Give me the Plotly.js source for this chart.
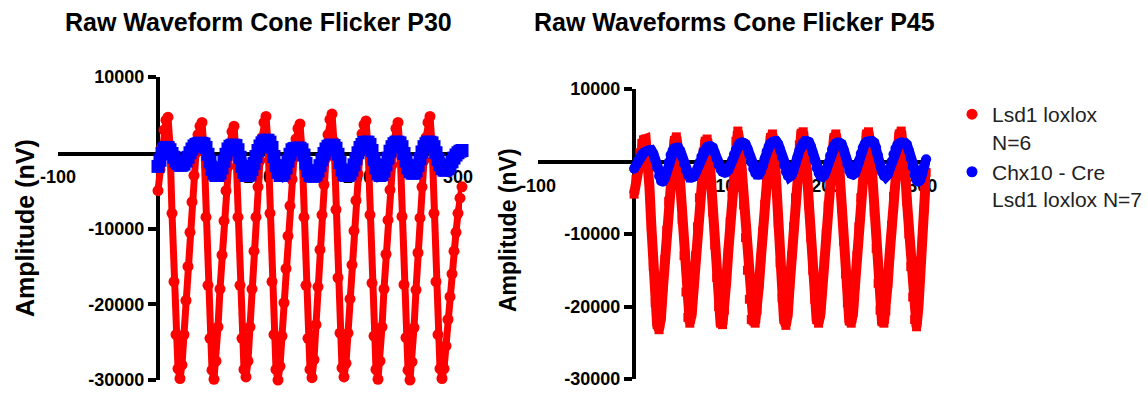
<!DOCTYPE html>
<html>
<head>
<meta charset="utf-8">
<script src="https://cdn.plot.ly/plotly-3.0.1.min.js"></script>
<style>html,body{margin:0;padding:0;background:#fff;}#chart{width:1148px;height:395px;}</style>
</head>
<body>
<div id="chart"></div>
<script>
// time in ms (sampled every 2 ms)
const timeMs = [
0,2,4,6,8,10,12,14,16,18,
20,22,24,26,28,30,32,34,36,38,
40,42,44,46,48,50,52,54,56,58,
60,62,64,66,68,70,72,74,76,78,
80,82,84,86,88,90,92,94,96,98,
100,102,104,106,108,110,112,114,116,118,
120,122,124,126,128,130,132,134,136,138,
140,142,144,146,148,150,152,154,156,158,
160,162,164,166,168,170,172,174,176,178,
180,182,184,186,188,190,192,194,196,198,
200,202,204,206,208,210,212,214,216,218,
220,222,224,226,228,230,232,234,236,238,
240,242,244,246,248,250,252,254,256,258,
260,262,264,266,268,270,272,274,276,278,
280,282,284,286,288,290,292,294,296,298,
300,302,304];

// P30, Lsd1 loxlox N=6 (nV)
const p30Lsd1 = [
-5000,-2200,800,3000,4300,4700,1000,-8000,-17000,-24000,
-28500,-29800,-28000,-24000,-19500,-15000,-10500,-6500,-3000,0,
2400,3500,4000,500,-8500,-17500,-24500,-28700,-29900,-27500,
-23000,-18000,-13500,-9000,-5000,-1800,1000,2800,3500,0,
-8500,-17500,-24500,-28600,-29600,-27500,-23000,-18000,-13000,-8500,
-4500,-1000,2000,4000,4800,1200,-8000,-17000,-24000,-28600,
-30000,-28200,-24200,-19800,-15300,-11000,-7000,-3500,-600,1800,
3200,3800,300,-8500,-17500,-24500,-28600,-29700,-27300,-22700,
-17700,-12800,-8200,-4200,-700,2400,4400,5100,1500,-7500,
-16500,-23800,-28400,-29600,-27800,-23800,-19300,-14800,-10300,-6300,
-2800,200,2500,3700,4200,800,-8200,-17200,-24200,-28600,
-29900,-27500,-23000,-18000,-13400,-8900,-4900,-1600,1200,3200,
4000,600,-8400,-17400,-24400,-28700,-30000,-27600,-23100,-18100,
-13200,-8600,-4500,-1000,2000,4000,4800,1200,-8000,-17000,
-24000,-28500,-29800,-28500,-25500,-22000,-19000,-16000,-13000,-10500,
-8000,-6000,-4500];

// P30, Chx10 - Cre Lsd1 loxlox N=7 (nV)
const p30Chx10 = [
-1800,-1000,-100,500,700,700,400,-100,-600,-1100,
-1450,-1650,-1650,-1500,-1100,-600,0,500,900,1100,
1200,1250,1250,1150,700,-200,-1200,-2200,-2800,-3000,
-3000,-2700,-2000,-1100,-200,500,850,1000,1000,950,
400,-600,-1800,-2600,-3000,-3000,-2800,-2200,-1400,-500,
300,900,1300,1550,1650,1650,1400,700,-500,-1700,
-2600,-3000,-3000,-2700,-2000,-1100,-200,400,550,600,
600,600,400,-300,-1400,-2400,-3000,-3100,-3100,-2900,
-2400,-1700,-900,-100,500,850,1000,1000,950,600,
-200,-1300,-2300,-2900,-3000,-3000,-2800,-2300,-1600,-800,
0,700,1100,1350,1400,1400,1100,300,-900,-2000,
-2800,-3000,-2900,-2400,-1600,-700,200,800,1200,1400,
1400,1300,800,-100,-1100,-2000,-2500,-2700,-2700,-2400,
-1700,-800,100,800,1200,1400,1400,1300,800,0,
-900,-1600,-2100,-2300,-2300,-2100,-1700,-1200,-700,-300,
0,200,300];

// P45, Lsd1 loxlox (nV)
const p45Lsd1 = [
-4500,-2500,-600,1200,2500,3000,3100,1000,-3500,-9000,
-14500,-19500,-22500,-23200,-21500,-17500,-13500,-9500,-5500,-2000,
1000,2900,3400,1500,-3000,-8000,-13000,-18000,-21500,-22300,
-21000,-17000,-13000,-9000,-5000,-1500,1300,2800,3100,1500,
-2500,-7000,-11500,-16000,-20000,-22300,-22500,-20500,-16500,-12500,
-8300,-4300,-600,2800,4200,2500,-1500,-6000,-10500,-15000,
-19000,-21800,-22000,-22300,-20500,-17000,-13300,-9600,-5900,-2300,
1000,3300,3800,1800,-3000,-8500,-14000,-18800,-21800,-22600,
-21000,-17000,-13000,-9000,-5000,-1200,2300,3900,4100,2300,
-1500,-6000,-10500,-15000,-19000,-21800,-22300,-21000,-17500,-13700,
-9900,-6100,-2400,1000,3300,3800,2200,-1800,-6500,-11000,
-15500,-19500,-22000,-22300,-20800,-17000,-13000,-9000,-5000,-1300,
2000,3800,4100,2300,-2000,-7000,-12000,-16800,-20500,-22100,
-22300,-20600,-16800,-12800,-8800,-4800,-1200,2000,3800,4200,
2600,-1000,-5500,-10000,-14500,-18700,-21800,-22800,-20000,-15500,
-11000,-6500,-1500];

// P45, Chx10 - Cre Lsd1 loxlox (nV)
const p45Chx10 = [
-1000,-500,100,600,1000,1200,1350,1500,1600,1550,
1100,200,-900,-2000,-2700,-2800,-2300,-1300,-100,900,
1500,1800,1900,1900,1500,700,-300,-1200,-1900,-2200,
-2200,-2100,-1600,-900,-100,700,1300,1700,2000,2100,
2100,1900,1200,300,-500,-1100,-1400,-1500,-1500,-1200,
-600,200,1000,1700,2200,2500,2600,2600,2400,1800,
900,-100,-1000,-1600,-1800,-1800,-1400,-600,400,1400,
2100,2500,2700,2800,2800,2400,1600,600,-500,-1400,
-2000,-2100,-1900,-1300,-400,600,1500,2200,2600,2800,
2800,2700,2100,1200,100,-900,-1600,-2000,-2100,-1900,
-1200,-200,800,1700,2200,2500,2600,2600,2400,1700,
700,-400,-1300,-1700,-1800,-1600,-900,100,1100,1900,
2400,2700,2800,2800,2800,2600,1900,800,-400,-1400,
-2000,-2100,-1800,-1000,0,1000,1800,2300,2500,2600,
2600,2600,2300,1500,400,-800,-1900,-2600,-2800,-2500,
-1700,-700,300];

const seriesNames = ['Lsd1 loxlox<br>N=6', 'Chx10 - Cre<br>Lsd1 loxlox N=7'];
const panelTitles = ['Raw Waveform Cone Flicker P30', 'Raw Waveforms Cone Flicker P45'];
const yTitle = 'Amplitude (nV)';
const xTickVals = [-100, 100, 200, 300];
const xTickText = ['-100', '100', '200', '300'];
const yTickVals = [-30000, -20000, -10000, 10000];
const yTickText = ['-30000', '-20000', '-10000', '10000'];

const RED = 'rgb(255,0,0)';
const BLUE = 'rgb(0,0,255)';
const FONT = 'Liberation Sans, Arial, sans-serif';
const W = 1148, H = 395;
const px = v => v / W;
const py = v => 1 - v / H;

const traces = [
  {x: timeMs, y: p30Lsd1, xaxis: 'x', yaxis: 'y', mode: 'lines+markers', cliponaxis: false,
   line: {color: RED, width: 7}, marker: {color: RED, size: 11}, showlegend: false},
  {x: timeMs, y: p30Chx10, xaxis: 'x', yaxis: 'y', mode: 'lines+markers', cliponaxis: false,
   line: {color: BLUE, width: 11}, marker: {color: BLUE, size: 13, symbol: 'square'}, showlegend: false},
  {x: timeMs, y: p45Lsd1, xaxis: 'x2', yaxis: 'y2', mode: 'lines+markers', cliponaxis: false,
   line: {color: RED, width: 10}, marker: {color: RED, size: 9, symbol: 'square'}, showlegend: false},
  {x: timeMs, y: p45Chx10, xaxis: 'x2', yaxis: 'y2', mode: 'lines+markers', cliponaxis: false,
   line: {color: BLUE, width: 10}, marker: {color: BLUE, size: 10}, showlegend: false},
  {x: [null], y: [null], xaxis: 'x', yaxis: 'y', name: seriesNames[0], mode: 'markers',
   marker: {color: RED, size: 11}},
  {x: [null], y: [null], xaxis: 'x', yaxis: 'y', name: seriesNames[1], mode: 'markers',
   marker: {color: BLUE, size: 11}}
];

function xAxis(domain, range, pos) {
  return {domain: domain, range: range, anchor: 'free', position: pos,
    showline: true, linecolor: '#000', linewidth: 4, showgrid: false, zeroline: false,
    tickmode: 'array', tickvals: xTickVals, ticktext: xTickText, ticks: '',
    ticklabelstandoff: 6, layer: 'below traces',
    tickfont: {family: FONT, size: 18, color: '#000', weight: 'bold'}};
}
function yAxis(domain, pos) {
  return {domain: domain, range: [-30000, 10000], anchor: 'free', position: pos,
    showline: true, linecolor: '#000', linewidth: 4, showgrid: false, zeroline: false,
    tickmode: 'array', tickvals: yTickVals, ticktext: yTickText, ticks: 'outside',
    ticklen: 8, tickwidth: 4, tickcolor: '#000', layer: 'below traces',
    tickfont: {family: FONT, size: 18, color: '#000', weight: 'bold'}};
}

const layout = {
  width: W, height: H,
  margin: {l: 0, r: 0, t: 0, b: 0},
  paper_bgcolor: '#fff', plot_bgcolor: 'rgba(0,0,0,0)',
  font: {family: FONT, color: '#000'},
  xaxis: xAxis([px(58), px(462)], [-100, 304], py(153.5)),
  yaxis: yAxis([py(380), py(77)], px(158)),
  xaxis2: xAxis([px(538), px(930)], [-100, 308], py(162)),
  yaxis2: yAxis([py(379), py(89)], px(634)),
  showlegend: true,
  legend: {x: px(952), xanchor: 'left', y: py(94), yanchor: 'top', valign: 'top',
    bgcolor: 'rgba(0,0,0,0)', font: {family: FONT, size: 21, color: '#222'}},
  annotations: [
    {text: panelTitles[0], xref: 'paper', yref: 'paper', x: px(258), y: py(22),
     xanchor: 'center', yanchor: 'middle', showarrow: false,
     font: {family: FONT, size: 25, color: '#000', weight: 'bold'}},
    {text: panelTitles[1], xref: 'paper', yref: 'paper', x: px(734), y: py(22),
     xanchor: 'center', yanchor: 'middle', showarrow: false,
     font: {family: FONT, size: 25, color: '#000', weight: 'bold'}},
    {text: yTitle, xref: 'paper', yref: 'paper', x: px(25), y: py(228), textangle: -90,
     xanchor: 'center', yanchor: 'middle', showarrow: false,
     font: {family: FONT, size: 25, color: '#000', weight: 'bold'}},
    {text: yTitle, xref: 'paper', yref: 'paper', x: px(508), y: py(230), textangle: -90,
     xanchor: 'center', yanchor: 'middle', showarrow: false,
     font: {family: FONT, size: 23, color: '#000', weight: 'bold'}}
  ]
};

Plotly.newPlot('chart', traces, layout, {displayModeBar: false, staticPlot: true});
</script>
</body>
</html>
